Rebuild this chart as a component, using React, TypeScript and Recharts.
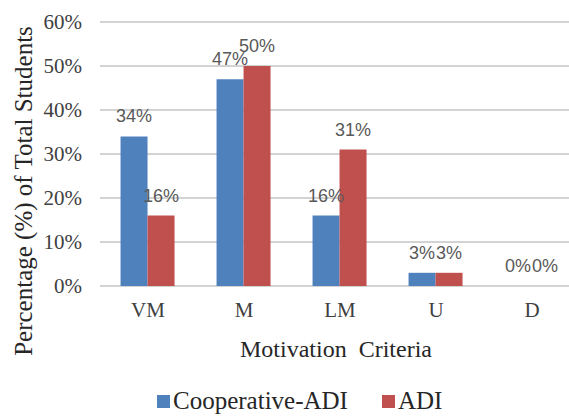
import React from 'react';
import { BarChart, Bar, XAxis, YAxis, CartesianGrid, Legend, LabelList } from 'recharts';

const criteria = ['VM', 'M', 'LM', 'U', 'D'];
const cooperativeAdi = [34, 47, 16, 3, 0];
const adi = [16, 50, 31, 3, 0];
const yTicks = [0, 10, 20, 30, 40, 50, 60];

const data = criteria.map((name, i) => ({
  name,
  coop: cooperativeAdi[i],
  adi: adi[i],
}));

const serif = 'Liberation Serif, Times New Roman, serif';
const sans = 'Liberation Sans, Arial, sans-serif';

// zero bars still need their "0%" label, so give them a hairline height
const hairline = (v: number) => (v === 0 ? 0.01 : 0);

const YTitle = () => (
  <text
    x={32}
    y={191}
    transform="rotate(-90, 32, 191)"
    textAnchor="middle"
    fontFamily={serif}
    fontSize={25}
    fill="#262626"
  >
    Percentage (%) of Total Students
  </text>
);

const XTitle = () => (
  <text x={336} y={357} textAnchor="middle" fontFamily={serif} fontSize={24} fill="#262626">
    {'Motivation\u00a0 Criteria'}
  </text>
);

const LegendContent = () => (
  <div style={{ display: 'flex', alignItems: 'center', height: 28, fontFamily: serif, fontSize: 25, color: '#262626' }}>
    <span style={{ width: 13, height: 13, background: '#4F81BD', display: 'inline-block', marginRight: 3 }} />
    <span style={{ marginRight: 34 }}>Cooperative-ADI</span>
    <span style={{ width: 13, height: 13, background: '#C0504D', display: 'inline-block', marginRight: 3 }} />
    <span>ADI</span>
  </div>
);

const App: React.FC = () => {
  return (
    <div style={{ position: 'absolute', left: 0, top: 0, width: 569, height: 416, overflow: 'hidden', background: '#fff' }}>
      <BarChart
        width={590}
        height={416}
        data={data}
        margin={{ top: 22, right: 10, bottom: 42, left: 0 }}
        barCategoryGap="21.4%"
        barGap={0}
      >
        <CartesianGrid vertical={false} stroke="#c4c4c4" strokeWidth={1.5} />
        <XAxis
          dataKey="name"
          axisLine={false}
          tickLine={false}
          tickMargin={10}
          height={60}
          tick={{ fontFamily: serif, fontSize: 21, fill: '#404040' }}
          label={<XTitle />}
        />
        <YAxis
          width={100}
          domain={[0, 60]}
          ticks={yTicks}
          tickFormatter={(v: number) => `${v}%`}
          axisLine={false}
          tickLine={false}
          tickMargin={12}
          tick={{ fontFamily: serif, fontSize: 21, fill: '#404040' }}
          label={<YTitle />}
        />
        <Legend
          verticalAlign="bottom"
          content={<LegendContent />}
          wrapperStyle={{ left: 157, top: 387, width: 320, height: 28 }}
        />
        <Bar dataKey="coop" name="Cooperative-ADI" fill="#4F81BD" minPointSize={hairline} isAnimationActive={false}>
          <LabelList
            dataKey="coop"
            position="top"
            offset={14}
            formatter={(v: number) => `${v}%`}
            style={{ fontFamily: sans, fontSize: 18, fill: '#595959' }}
          />
        </Bar>
        <Bar dataKey="adi" name="ADI" fill="#C0504D" minPointSize={hairline} isAnimationActive={false}>
          <LabelList
            dataKey="adi"
            position="top"
            offset={14}
            formatter={(v: number) => `${v}%`}
            style={{ fontFamily: sans, fontSize: 18, fill: '#595959' }}
          />
        </Bar>
      </BarChart>
    </div>
  );
};

export default App;
